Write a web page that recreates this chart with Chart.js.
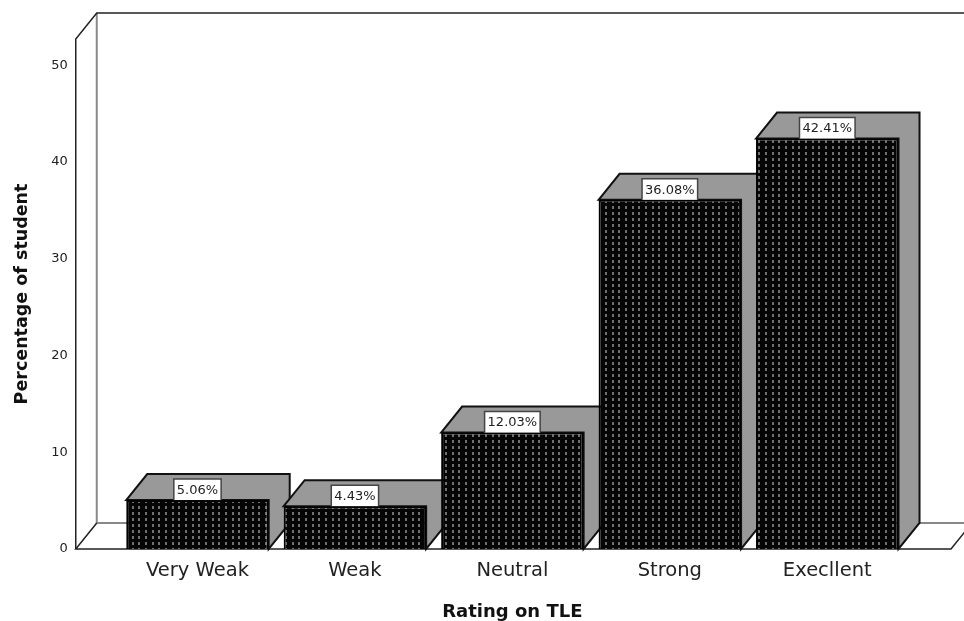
<!DOCTYPE html>
<html>
<head>
<meta charset="utf-8">
<style>
html, body { margin: 0; padding: 0; background: #fff; }
#wrap { width: 964px; height: 621px; }
</style>
<script src="https://cdn.jsdelivr.net/npm/chart.js@4"></script>
</head>
<body>
<div id="wrap"><canvas id="grafico"></canvas></div>
<script>
const categorias = ['Very Weak', 'Weak', 'Neutral', 'Strong', 'Execllent']
const percentuais = [5.06, 4.43, 12.03, 36.08, 42.41]
const ticksY = [0, 10, 20, 30, 40, 50]

const fonte = '"DejaVu Sans", sans-serif'
const dx = 21
const dy = 26

// padrao de pontos das barras
function criarPadrao() {
    const c = document.createElement('canvas')
    c.width = 20
    c.height = 6
    const p = c.getContext('2d')
    p.fillStyle = '#050505'
    p.fillRect(0, 0, c.width, c.height)
    ;[5, 12, 18].forEach(x => {
        p.fillStyle = '#707070'
        p.fillRect(x, 2, 2, 3)
    })
    return p.createPattern(c, 'repeat')
}

function linha(ctx, pontos) {
    ctx.beginPath()
    pontos.forEach((p, i) => i ? ctx.lineTo(p[0], p[1]) : ctx.moveTo(p[0], p[1]))
    ctx.stroke()
}

// paredes e chao do grafico 3D
const paredes = {
    id: 'paredes',
    beforeDatasetsDraw(chart) {
        const { ctx, chartArea: a } = chart
        const esq = a.left - 43
        const dir = a.right + 45
        ctx.save()
        ctx.lineWidth = 2
        ctx.strokeStyle = '#888'
        linha(ctx, [[esq + dx, a.top - dy], [esq + dx, a.bottom - dy], [dir + dx, a.bottom - dy]])
        ctx.strokeStyle = '#222'
        ctx.lineWidth = 1.5
        linha(ctx, [[esq, a.bottom], [esq, a.top], [esq + dx, a.top - dy], [dir + dx, a.top - dy]])
        linha(ctx, [[esq + dx, a.bottom - dy], [esq, a.bottom], [dir, a.bottom], [dir + dx, a.bottom - dy]])
        ctx.restore()
    }
}

// topo e lateral de cada barra
const caixas = {
    id: 'caixas',
    beforeDatasetsDraw(chart) {
        const { ctx } = chart
        ctx.save()
        ctx.fillStyle = '#999'
        ctx.strokeStyle = '#111'
        ctx.lineWidth = 2
        chart.getDatasetMeta(0).data.forEach(b => {
            const e = b.x - b.width / 2
            const d = b.x + b.width / 2
            ctx.beginPath()
            ctx.moveTo(e, b.y)
            ctx.lineTo(e + dx, b.y - dy)
            ctx.lineTo(d + dx, b.y - dy)
            ctx.lineTo(d + dx, b.base - dy)
            ctx.lineTo(d, b.base)
            ctx.lineTo(d, b.y)
            ctx.closePath()
            ctx.fill()
            ctx.stroke()
        })
        ctx.restore()
    }
}

// caixinhas com o valor em cima de cada barra
const rotulos = {
    id: 'rotulos',
    afterDatasetsDraw(chart) {
        const { ctx } = chart
        ctx.save()
        ctx.font = '13px ' + fonte
        ctx.textAlign = 'center'
        ctx.textBaseline = 'middle'
        chart.getDatasetMeta(0).data.forEach((b, i) => {
            const texto = percentuais[i].toFixed(2) + '%'
            const w = ctx.measureText(texto).width + 6
            const h = 21
            const x = b.x - w / 2
            const y = b.y - h
            ctx.fillStyle = '#fff'
            ctx.fillRect(x, y, w, h)
            ctx.strokeStyle = '#444'
            ctx.lineWidth = 1.5
            linha(ctx, [[x, y + h], [x, y], [x + w, y], [x + w, y + h]])
            ctx.fillStyle = '#222'
            ctx.fillText(texto, b.x, y + h / 2 + 1)
        })
        ctx.restore()
    }
}

new Chart(document.getElementById('grafico'), {
    type: 'bar',
    data: {
        labels: categorias,
        datasets: [{
            data: percentuais,
            backgroundColor: criarPadrao(),
            borderColor: '#000',
            borderWidth: 2,
            barPercentage: 0.905,
            categoryPercentage: 1
        }]
    },
    options: {
        responsive: true,
        maintainAspectRatio: false,
        animation: false,
        layout: { padding: { top: 39, right: 58, left: 0, bottom: 0 } },
        plugins: { legend: { display: false }, tooltip: { enabled: false } },
        scales: {
            x: {
                grid: { display: false },
                border: { display: false },
                ticks: { color: '#222', font: { family: fonte, size: 19.5 }, padding: 2, maxRotation: 0 },
                title: { display: true, text: 'Rating on TLE', color: '#111', font: { family: fonte, size: 18, weight: 'bold' }, padding: { top: 14, bottom: -2 } },
                afterFit(s) { s.height = 72 }
            },
            y: {
                min: 0,
                max: 52.7,
                grid: { display: false },
                border: { display: false },
                afterBuildTicks(s) { s.ticks = ticksY.map(v => ({ value: v })) },
                ticks: { color: '#222', font: { family: fonte, size: 13 }, padding: 43 },
                title: { display: true, text: 'Percentage of student', color: '#111', font: { family: fonte, size: 17.5, weight: 'bold' }, padding: { top: 12, bottom: 0 } },
                // o padding dos ticks nao pode empurrar a area do grafico
                afterFit(s) {
                    s.width = 118.75
                    s.paddingTop = 0
                    s.paddingBottom = 0
                }
            }
        }
    },
    plugins: [paredes, caixas, rotulos]
})
</script>
</body>
</html>
